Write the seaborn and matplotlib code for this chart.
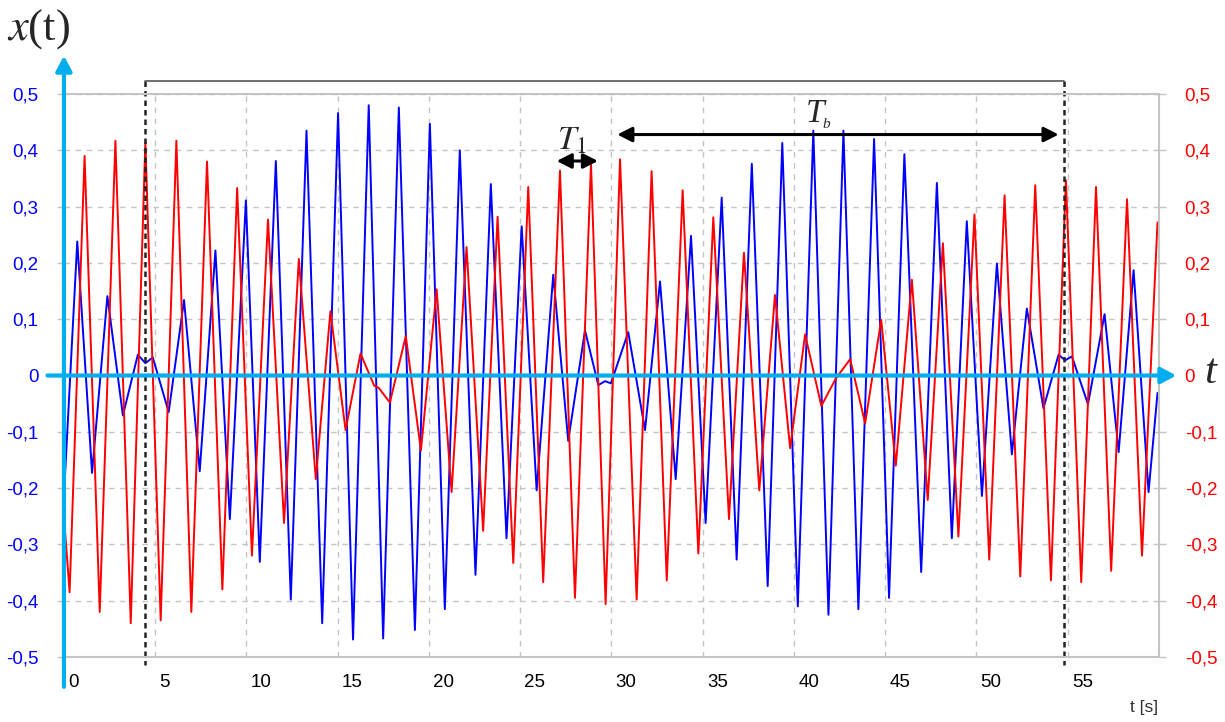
import matplotlib
matplotlib.use('Agg')
import matplotlib.pyplot as plt
from matplotlib.transforms import ScaledTranslation
import pandas as pd
import seaborn as sns

# peak / trough readings of the two pendulum signals (t in s, x in m)
t_blue = [0.0, 0.73, 1.54, 2.38, 3.23, 4.05, 4.46, 4.87, 5.74, 6.58, 7.44, 8.30, 9.09, 9.97,
          10.73, 11.61, 12.43, 13.29, 14.15, 15.02, 15.84, 16.70, 17.49, 18.35, 19.23, 20.05,
          20.87, 21.69, 22.55, 23.39, 24.25, 25.08, 25.90, 26.81, 27.63, 28.55, 29.28, 29.65,
          29.97, 30.92, 31.84, 32.66, 33.52, 34.36, 35.16, 36.04, 36.86, 37.69, 38.56, 39.36,
          40.21, 41.06, 41.89, 42.71, 43.53, 44.39, 45.21, 46.05, 46.97, 47.83, 48.65, 49.47,
          50.30, 51.12, 51.94, 52.76, 53.67, 54.50, 54.86, 55.23, 56.11, 57.02, 57.79, 58.61,
          59.43, 59.92]
x_blue = [-0.214, 0.238, -0.173, 0.141, -0.071, 0.037, 0.022, 0.032, -0.065, 0.134, -0.170, 0.222,
          -0.255, 0.311, -0.331, 0.381, -0.398, 0.435, -0.440, 0.466, -0.469, 0.480, -0.467, 0.476,
          -0.452, 0.447, -0.415, 0.400, -0.354, 0.340, -0.289, 0.265, -0.204, 0.179, -0.116, 0.080,
          -0.017, -0.010, -0.014, 0.077, -0.097, 0.167, -0.184, 0.248, -0.262, 0.316, -0.327, 0.376,
          -0.374, 0.413, -0.410, 0.435, -0.425, 0.435, -0.415, 0.420, -0.395, 0.393, -0.349, 0.342,
          -0.289, 0.274, -0.214, 0.199, -0.140, 0.119, -0.058, 0.037, 0.027, 0.034, -0.051, 0.109,
          -0.136, 0.187, -0.207, -0.031]

t_red = [0.0, 0.31, 1.13, 1.96, 2.82, 3.66, 4.46, 5.30, 6.16, 6.98, 7.84, 8.68, 9.49, 10.30,
         11.18, 12.06, 12.87, 13.80, 14.60, 15.43, 16.25, 17.00, 17.25, 17.86, 18.73, 19.56, 20.42,
         21.24, 22.06, 22.97, 23.76, 24.62, 25.44, 26.26, 27.18, 28.00, 28.88, 29.68, 30.47, 31.38,
         32.20, 33.03, 33.90, 34.76, 35.58, 36.44, 37.26, 38.10, 38.96, 39.79, 40.61, 41.50, 42.30,
         43.08, 43.90, 44.78, 45.58, 46.46, 47.33, 48.16, 49.01, 49.89, 50.70, 51.54, 52.40, 53.22,
         54.08, 54.90, 55.74, 56.55, 57.38, 58.25, 59.07, 59.92]
x_red = [-0.250, -0.385, 0.390, -0.420, 0.417, -0.440, 0.415, -0.435, 0.417, -0.420, 0.380, -0.380,
         0.333, -0.320, 0.277, -0.262, 0.207, -0.184, 0.114, -0.097, 0.039, -0.018, -0.022, -0.048,
         0.070, -0.133, 0.153, -0.207, 0.228, -0.276, 0.282, -0.333, 0.335, -0.367, 0.364, -0.395,
         0.376, -0.406, 0.384, -0.398, 0.363, -0.364, 0.329, -0.316, 0.281, -0.255, 0.218, -0.204,
         0.143, -0.129, 0.073, -0.054, -0.005, 0.029, -0.085, 0.099, -0.160, 0.170, -0.221, 0.235,
         -0.286, 0.286, -0.327, 0.320, -0.357, 0.338, -0.364, 0.347, -0.367, 0.335, -0.347, 0.313,
         -0.320, 0.272]

xticks = [0, 5, 10, 15, 20, 25, 30, 35, 40, 45, 50, 55]
xtick_labels = ['0', '5', '10', '15', '20', '25', '30', '35', '40', '45', '50', '55']
yticks = [-0.5, -0.4, -0.3, -0.2, -0.1, 0.0, 0.1, 0.2, 0.3, 0.4, 0.5]
ytick_labels = ['-0,5', '-0,4', '-0,3', '-0,2', '-0,1', '0', '0,1', '0,2', '0,3', '0,4', '0,5']

beat_marks = [4.46, 54.82]   # dashed verticals bounding T_b
t1_span = [27.0, 29.26]
tb_span = [30.32, 54.5]

sns.set_style('white')
plt.rcParams['font.family'] = ['Liberation Sans', 'DejaVu Sans']
plt.rcParams['mathtext.fontset'] = 'stix'

fig = plt.figure(figsize=(12.25, 7.22), dpi=100)
ax = fig.add_axes([0.0522, 0.0900, 0.8939, 0.7798])

blue_df = pd.DataFrame({'t': t_blue, 'x': x_blue})
red_df = pd.DataFrame({'t': t_red, 'x': x_red})
sns.lineplot(data=blue_df, x='t', y='x', color='#0000FF', lw=1.4, estimator=None, sort=False, ax=ax)
sns.lineplot(data=red_df, x='t', y='x', color='#FF0000', lw=1.4, estimator=None, sort=False, ax=ax)
ax.set_xlabel('')
ax.set_ylabel('')

ax.set_xlim(0, 60)
ax.set_ylim(-0.5, 0.5)
ax.set_xticks(xticks)
ax.set_xticklabels(xtick_labels)
ax.set_yticks(yticks)
ax.set_yticklabels(ytick_labels)

grey = '#C4C4C4'
ax.grid(True, ls=(0, (4, 4)), color=grey, lw=1)
for side in ['top', 'bottom', 'right']:
    ax.spines[side].set_color(grey)
    ax.spines[side].set_linewidth(1.5)
ax.spines['left'].set_visible(False)

ax.tick_params(axis='x', direction='out', length=26, width=1.5, color=grey,
               pad=-14, labelsize=13.5, labelcolor='black')
shift = ScaledTranslation(3 / 72, 0, fig.dpi_scale_trans)
for lbl in ax.get_xticklabels():
    lbl.set_horizontalalignment('left')
    lbl.set_transform(lbl.get_transform() + shift)

ax.tick_params(axis='y', direction='out', left=True, right=True, labelleft=True, labelright=True,
               length=5, width=1, color=grey, pad=13.5, labelsize=13.5)
for tk in ax.yaxis.get_major_ticks():
    tk.label1.set_color('#0000FF')
    tk.label2.set_color('#FF0000')

# light blue coordinate arrows
axis_blue = '#00AEEF'
arrow = dict(arrowstyle='-|>,head_length=0.45,head_width=0.24', color=axis_blue, lw=3.0,
             mutation_scale=20, shrinkA=0, shrinkB=0)
ax.annotate('', xy=(0, 0.568), xytext=(0, -0.553), arrowprops=arrow, annotation_clip=False)
ax.annotate('', xy=(60.95, 0), xytext=(-0.9, 0), arrowprops=arrow, annotation_clip=False)

# beat period markers
for tm in beat_marks:
    ax.plot([tm, tm], [0.523, -0.514], color='#222222', ls=(0, (2.2, 1.6)), lw=1.8, clip_on=False)
ax.plot(beat_marks, [0.523, 0.523], color='#555555', lw=1.2, clip_on=False)

dbl = dict(arrowstyle='<|-|>,head_length=0.55,head_width=0.28', color='black', lw=2.2,
           mutation_scale=16, shrinkA=0, shrinkB=0)
ax.annotate('', xy=(t1_span[0], 0.381), xytext=(t1_span[1], 0.381), arrowprops=dbl,
            annotation_clip=False)
ax.annotate('', xy=(tb_span[0], 0.428), xytext=(tb_span[1], 0.428), arrowprops=dbl,
            annotation_clip=False)
ax.text(27.0, 0.401, r'$T_1$', fontsize=24, ha='left', va='baseline')
ax.text(40.66, 0.450, 'T', fontsize=24, family='Liberation Serif', style='italic',
        ha='left', va='baseline')
ax.text(41.55, 0.440, 'b', fontsize=11, family='Liberation Serif', style='italic',
        ha='left', va='baseline')

fig.text(7 / 1225, 1 - 40 / 722, r'$x$(t)', fontsize=32, family='Liberation Serif', va='baseline')
fig.text(1204 / 1225, 1 - 383 / 722, 't', fontsize=31, family='Liberation Serif', style='italic',
         va='baseline')
fig.text(1158 / 1225, 1 - 712 / 722, 't [s]', fontsize=12.5, color='#333333', ha='right',
         va='baseline')

fig.savefig('out.png', dpi=100)
